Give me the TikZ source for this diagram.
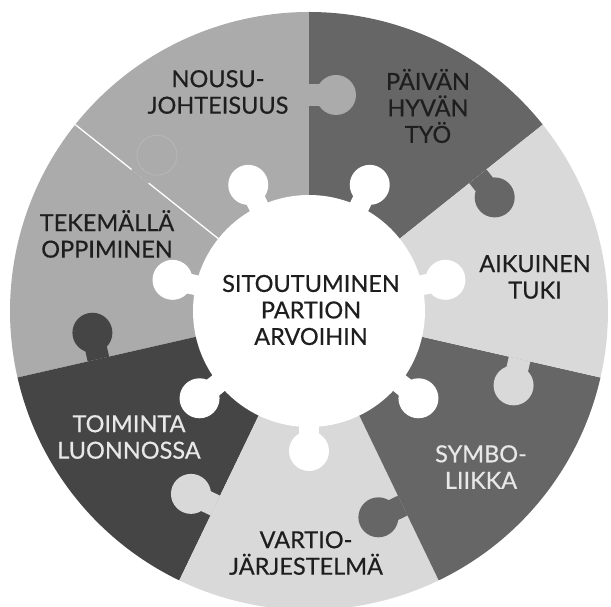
\documentclass[tikz,border=0pt]{standalone}
\usepackage{fontspec}
\setmainfont{Lato}
\newfontfamily\piecefont{Lato}[FakeBold=0.5]
\usepackage{tikz}
\usetikzlibrary{calc}

\definecolor{pieceLight}{HTML}{D9D9D9}
\definecolor{pieceMid}{HTML}{ABABAB}
\definecolor{pieceDark}{HTML}{666666}
\definecolor{pieceDeep}{HTML}{454545}
\definecolor{inkDark}{HTML}{1E1E1E}
\definecolor{inkPale}{HTML}{E8E8E8}

\begin{document}
\begin{tikzpicture}[x=1pt, y=1pt,
    piecetext/.style={font=\piecefont\fontsize{23.5}{26.5}\selectfont, align=center, text=inkDark},
    neck/.style={line width=22pt},
    hubneck/.style={white, line width=20pt}
  ]
    \useasboundingbox (-309,-296) rectangle (302,311);

    % Pieces of the wheel
    \fill[pieceDark]  (0,0) -- (38.571:299) arc[start angle=38.571, end angle=90, radius=299pt] -- cycle;
    \fill[pieceMid]   (0,0) -- (90:299) arc[start angle=90, end angle=141.429, radius=299pt] -- cycle;
    \fill[pieceMid]   (0,0) -- (141.429:299) arc[start angle=141.429, end angle=192.857, radius=299pt] -- cycle;
    \fill[pieceDeep]  (0,0) -- (192.857:299) arc[start angle=192.857, end angle=244.286, radius=299pt] -- cycle;
    \fill[pieceLight] (0,0) -- (244.286:299) arc[start angle=244.286, end angle=295.714, radius=299pt] -- cycle;
    \fill[pieceDark]  (0,0) -- (295.714:299) arc[start angle=295.714, end angle=347.143, radius=299pt] -- cycle;
    \fill[pieceLight] (0,0) -- (-12.857:299) arc[start angle=-12.857, end angle=38.571, radius=299pt] -- cycle;

    % Puzzle knobs on the seams
    \draw[pieceDark, neck]  (38.571:216) -- ($(38.571:216)+(-51.429:27)$);
    \fill[pieceDark]  ($(38.571:216)+(-51.429:27)$) circle[radius=20pt];
    \draw[pieceMid, neck]   (90:216) -- ($(90:216)+(0:27)$);
    \fill[pieceMid]   ($(90:216)+(0:27)$) circle[radius=20pt];
    \draw[pieceDeep, neck]  (192.857:216) -- ($(192.857:216)+(102.857:27)$);
    \fill[pieceDeep]  ($(192.857:216)+(102.857:27)$) circle[radius=20pt];
    \draw[pieceLight, neck] (244.286:216) -- ($(244.286:216)+(154.286:27)$);
    \fill[pieceLight] ($(244.286:216)+(154.286:27)$) circle[radius=20pt];
    \draw[pieceDark, neck]  (295.714:216) -- ($(295.714:216)+(205.714:27)$);
    \fill[pieceDark]  ($(295.714:216)+(205.714:27)$) circle[radius=20pt];
    \draw[pieceLight, neck] (-12.857:216) -- ($(-12.857:216)+(-102.857:27)$);
    \fill[pieceLight] ($(-12.857:216)+(-102.857:27)$) circle[radius=20pt];

    % Seam between the two mid grey pieces
    \draw[white, line width=1.3pt] (141.429:116) -- (141.429:205);
    \draw[white, line width=1.3pt] (141.429:227) -- (141.429:299);
    \draw[white, opacity=0.12, line width=1pt] ($(141.429:216)+(51.429:27)$) circle[radius=20pt];

    % Hub with its knobs
    \fill[white] (0,0) circle[radius=116pt];
    \draw[hubneck] (12.857:110) -- (12.857:140);
    \draw[hubneck] (64.286:110) -- (64.286:140);
    \draw[hubneck] (115.714:110) -- (115.714:140);
    \draw[hubneck] (167.143:110) -- (167.143:140);
    \draw[hubneck] (218.571:110) -- (218.571:140);
    \draw[hubneck] (270:110) -- (270:140);
    \draw[hubneck] (321.429:110) -- (321.429:140);
    \fill[white] (12.857:140) circle[radius=20pt];
    \fill[white] (64.286:140) circle[radius=20pt];
    \fill[white] (115.714:140) circle[radius=20pt];
    \fill[white] (167.143:140) circle[radius=20pt];
    \fill[white] (218.571:140) circle[radius=20pt];
    \fill[white] (270:140) circle[radius=20pt];
    \fill[white] (321.429:140) circle[radius=20pt];

    % Texts
    \node[piecetext] (core) at (2, 1) {SITOUTUMINEN\\PARTION\\ARVOIHIN};
    \node[piecetext] (nousu) at (-91, 219) {NOUSU-\\JOHTEISUUS};
    \node[piecetext] (paivan) at (119, 205) {PÄIVÄN\\HYVÄN\\TYÖ};
    \node[piecetext] (aikuinen) at (226, 34) {AIKUINEN\\TUKI};
    \node[piecetext, text=inkPale] (symbo) at (172, -156) {SYMBO-\\LIIKKA};
    \node[piecetext] (vartio) at (-3, -242) {VARTIO-\\JÄRJESTELMÄ};
    \node[piecetext, text=inkPale] (toiminta) at (-180, -126) {TOIMINTA\\LUONNOSSA};
    \node[piecetext] (tekemalla) at (-202, 77) {TEKEMÄLLÄ\\OPPIMINEN};

\end{tikzpicture}
\end{document}
